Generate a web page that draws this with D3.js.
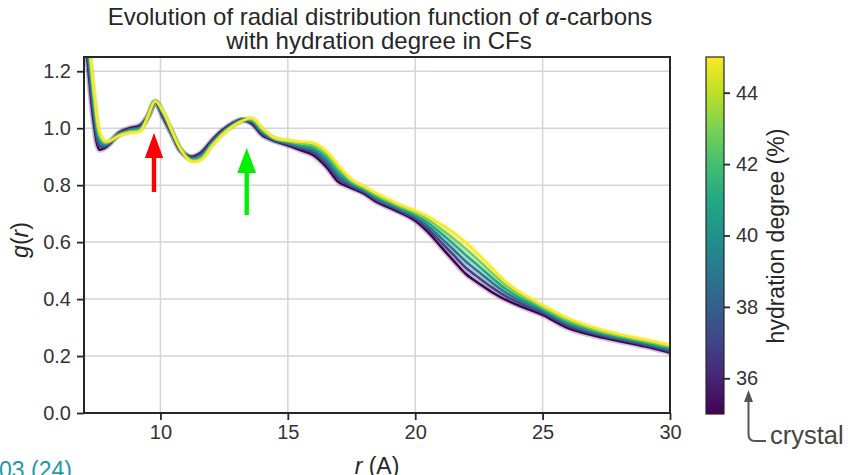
<!DOCTYPE html>
<html>
<head>
<meta charset="utf-8">
<script src="https://cdn.jsdelivr.net/npm/d3@7"></script>
<style>
  body { margin: 0; background: #fff; }
  svg { display: block; font-family: "Liberation Sans", Arial, sans-serif; }
</style>
</head>
<body>
<script>
// radial distances (A)
var rValues = [7.0, 7.2, 7.4, 7.6, 7.8, 8.0, 8.4, 8.8, 9.2, 9.5, 9.8, 10.1, 10.5, 10.8, 11.2, 11.6, 12.0, 12.4, 12.8, 13.2, 13.6, 14.0, 14.5, 15.0, 15.5, 16.0, 16.5, 17.0, 17.5, 18.0, 18.5, 19.0, 19.5, 20.0, 20.5, 21.0, 21.5, 22.0, 22.5, 23.0, 23.5, 24.0, 24.5, 25.0, 26.0, 27.0, 28.0, 29.0, 30.0];

// hydration degree of each curve (%)
var hydration = [35, 37, 39, 41, 43, 45];

// g(r) for each hydration degree
var g35 = [1.38, 1.18, 1.01, 0.925, 0.93, 0.945, 0.985, 1.0, 1.01, 1.04, 1.09, 1.04, 0.97, 0.92, 0.90, 0.915, 0.955, 0.99, 1.015, 1.03, 1.015, 0.975, 0.955, 0.94, 0.923, 0.905, 0.865, 0.81, 0.79, 0.77, 0.74, 0.72, 0.70, 0.675, 0.635, 0.585, 0.535, 0.487, 0.455, 0.425, 0.40, 0.38, 0.362, 0.345, 0.298, 0.272, 0.253, 0.234, 0.212];
var g37 = [1.40, 1.20, 1.03, 0.938, 0.935, 0.947, 0.983, 0.997, 1.006, 1.04, 1.091, 1.044, 0.972, 0.921, 0.897, 0.91, 0.951, 0.987, 1.013, 1.029, 1.019, 0.98, 0.957, 0.944, 0.929, 0.914, 0.876, 0.822, 0.796, 0.775, 0.746, 0.726, 0.705, 0.682, 0.646, 0.601, 0.555, 0.509, 0.475, 0.442, 0.413, 0.39, 0.37, 0.352, 0.305, 0.278, 0.258, 0.239, 0.217];
var g39 = [1.43, 1.23, 1.05, 0.951, 0.94, 0.949, 0.981, 0.994, 1.002, 1.04, 1.092, 1.048, 0.974, 0.922, 0.894, 0.905, 0.947, 0.984, 1.011, 1.028, 1.023, 0.985, 0.959, 0.947, 0.935, 0.922, 0.887, 0.833, 0.802, 0.78, 0.752, 0.731, 0.711, 0.689, 0.657, 0.616, 0.574, 0.531, 0.495, 0.459, 0.426, 0.40, 0.379, 0.358, 0.312, 0.283, 0.262, 0.244, 0.222];
var g41 = [1.45, 1.25, 1.08, 0.964, 0.945, 0.951, 0.979, 0.991, 0.998, 1.04, 1.093, 1.052, 0.976, 0.923, 0.891, 0.90, 0.943, 0.981, 1.009, 1.027, 1.027, 0.99, 0.961, 0.951, 0.94, 0.931, 0.898, 0.845, 0.808, 0.785, 0.758, 0.737, 0.716, 0.696, 0.668, 0.632, 0.594, 0.553, 0.515, 0.476, 0.439, 0.41, 0.387, 0.365, 0.318, 0.289, 0.267, 0.248, 0.228];
var g43 = [1.48, 1.28, 1.10, 0.977, 0.95, 0.953, 0.977, 0.988, 0.994, 1.04, 1.094, 1.056, 0.978, 0.924, 0.888, 0.895, 0.939, 0.978, 1.007, 1.026, 1.031, 0.995, 0.963, 0.954, 0.946, 0.939, 0.909, 0.856, 0.814, 0.79, 0.764, 0.742, 0.722, 0.703, 0.679, 0.647, 0.613, 0.575, 0.535, 0.493, 0.452, 0.42, 0.396, 0.371, 0.325, 0.294, 0.271, 0.253, 0.233];
var g45 = [1.50, 1.30, 1.12, 0.99, 0.955, 0.955, 0.975, 0.985, 0.99, 1.04, 1.095, 1.06, 0.98, 0.925, 0.885, 0.89, 0.935, 0.975, 1.005, 1.025, 1.035, 1.0, 0.965, 0.958, 0.952, 0.948, 0.92, 0.868, 0.82, 0.795, 0.77, 0.748, 0.727, 0.71, 0.69, 0.663, 0.633, 0.597, 0.555, 0.51, 0.465, 0.43, 0.404, 0.378, 0.332, 0.30, 0.276, 0.258, 0.238];

// tick labels
var xTicks = [10, 15, 20, 25, 30];
var yTicks = [0.0, 0.2, 0.4, 0.6, 0.8, 1.0, 1.2];
var cbTicks = [36, 38, 40, 42, 44];

var curves = [g35, g37, g39, g41, g43, g45];

var width = 848, height = 475;
var margin = {left: 84, right: 178, top: 57, bottom: 62};
var plotW = width - margin.left - margin.right;
var plotH = height - margin.top - margin.bottom;
var dark = "#262626";

var svg = d3.select("body").append("svg")
  .attr("width", width)
  .attr("height", height);

var x = d3.scaleLinear().domain([7, 30]).range([margin.left, margin.left + plotW]);
var y = d3.scaleLinear().domain([0, 1.25]).range([margin.top + plotH, margin.top]);
var color = d3.scaleSequential(d3.interpolateViridis).domain([35, 45]);

// grid
svg.append("g").selectAll("line").data(xTicks).enter().append("line")
  .attr("x1", d => x(d)).attr("x2", d => x(d))
  .attr("y1", y(0)).attr("y2", y(1.25))
  .attr("stroke", "#d5d5d5").attr("stroke-width", 1.5);
svg.append("g").selectAll("line").data(yTicks).enter().append("line")
  .attr("x1", x(7)).attr("x2", x(30))
  .attr("y1", d => y(d)).attr("y2", d => y(d))
  .attr("stroke", "#d5d5d5").attr("stroke-width", 1.5);

// curves
svg.append("clipPath").attr("id", "clip").append("rect")
  .attr("x", margin.left).attr("y", margin.top)
  .attr("width", plotW).attr("height", plotH);

var line = d3.line()
  .x(function(d, i) { return x(rValues[i]); })
  .y(function(d) { return y(d); })
  .curve(d3.curveCatmullRom);

var plot = svg.append("g").attr("clip-path", "url(#clip)");

// faint band around each curve
plot.selectAll(".band").data(curves).enter().append("path")
  .attr("class", "band")
  .attr("d", line)
  .attr("fill", "none")
  .attr("stroke", (d, i) => color(hydration[i]))
  .attr("stroke-opacity", 0.22)
  .attr("stroke-width", 6)
  .attr("stroke-linejoin", "round");

plot.selectAll(".curve").data(curves).enter().append("path")
  .attr("class", "curve")
  .attr("d", line)
  .attr("fill", "none")
  .attr("stroke", (d, i) => color(hydration[i]))
  .attr("stroke-width", 2.5)
  .attr("stroke-linejoin", "round");

// axes
var xAxis = svg.append("g")
  .attr("transform", "translate(0," + y(0) + ")")
  .call(d3.axisBottom(x).tickValues(xTicks).tickSize(7).tickPadding(5).tickFormat(d3.format("d")));
var yAxis = svg.append("g")
  .attr("transform", "translate(" + x(7) + ",0)")
  .call(d3.axisLeft(y).tickValues(yTicks).tickSize(7).tickPadding(6).tickFormat(d3.format(".1f")));

[xAxis, yAxis].forEach(function(a) {
  a.select(".domain").remove();
  a.selectAll("line").attr("stroke", dark).attr("stroke-width", 1.8);
  a.selectAll("text").attr("fill", "#333").style("font-size", "20px")
    .style("font-family", "'Liberation Sans', Arial, sans-serif");
});

// frame
svg.append("rect")
  .attr("x", x(7)).attr("y", y(1.25))
  .attr("width", plotW).attr("height", plotH)
  .attr("fill", "none").attr("stroke", dark).attr("stroke-width", 2);

// title
var title = svg.append("text")
  .attr("text-anchor", "middle")
  .attr("fill", dark)
  .style("font-size", "24px");
title.append("tspan").attr("x", 380).attr("y", 25)
  .text("Evolution of radial distribution function of ")
  .append("tspan").style("font-style", "italic").text("α");
title.select("tspan").append("tspan").text("-carbons");
title.append("tspan").attr("x", 379).attr("y", 49).text("with hydration degree in CFs");

// axis labels
var ylab = svg.append("text")
  .attr("transform", "translate(28,240) rotate(-90)")
  .attr("text-anchor", "middle")
  .attr("fill", dark)
  .style("font-size", "23px");
ylab.append("tspan").style("font-style", "italic").text("g");
ylab.append("tspan").text("(");
ylab.append("tspan").style("font-style", "italic").text("r");
ylab.append("tspan").text(")");

var xlab = svg.append("text")
  .attr("x", 377).attr("y", 474)
  .attr("text-anchor", "middle")
  .attr("fill", dark)
  .style("font-size", "23px");
xlab.append("tspan").style("font-style", "italic").text("r");
xlab.append("tspan").text(" (A)");

// arrows marking the two peaks
function arrow(cx, tipY, baseY, tailY, halfW, fill) {
  svg.append("rect")
    .attr("x", cx - 2.2).attr("y", baseY - 1)
    .attr("width", 4.4).attr("height", tailY - baseY + 1)
    .attr("fill", fill);
  svg.append("path")
    .attr("d", "M" + cx + "," + tipY + "L" + (cx + halfW) + "," + baseY + "L" + (cx - halfW) + "," + baseY + "Z")
    .attr("fill", fill);
}
arrow(154, 133, 158, 192, 9.2, "#ff0000");
arrow(246.7, 148, 173, 215, 9.4, "#00f000");

// colorbar
var cbX = 706, cbW = 18;
var cb = d3.scaleLinear().domain([35, 45]).range([414, 57]);
var grad = svg.append("defs").append("linearGradient")
  .attr("id", "viridis").attr("x1", 0).attr("y1", 1).attr("x2", 0).attr("y2", 0);
d3.range(0, 1.01, 0.1).forEach(function(t) {
  grad.append("stop").attr("offset", t).attr("stop-color", d3.interpolateViridis(t));
});
svg.append("rect")
  .attr("x", cbX).attr("y", cb(45))
  .attr("width", cbW).attr("height", cb(35) - cb(45))
  .attr("fill", "url(#viridis)")
  .attr("stroke", dark).attr("stroke-width", 1.2);

var cbAxis = svg.append("g")
  .attr("transform", "translate(" + (cbX + cbW) + ",0)")
  .call(d3.axisRight(cb).tickValues(cbTicks).tickSize(6).tickPadding(6));
cbAxis.select(".domain").remove();
cbAxis.selectAll("line").attr("stroke", dark).attr("stroke-width", 1.8);
cbAxis.selectAll("text").attr("fill", "#333").style("font-size", "20px")
  .style("font-family", "'Liberation Sans', Arial, sans-serif");

svg.append("text")
  .attr("transform", "translate(784,236) rotate(-90)")
  .attr("text-anchor", "middle")
  .attr("fill", dark)
  .style("font-size", "23px")
  .text("hydration degree (%)");

// crystal annotation
svg.append("path")
  .attr("d", "M766,441 L755,441 Q748.5,441 748.5,434 L748.5,400")
  .attr("fill", "none").attr("stroke", "#555").attr("stroke-width", 2);
svg.append("path")
  .attr("d", "M748.5,390 L753,402 L744,402 Z")
  .attr("fill", "#555");
svg.append("text")
  .attr("x", 770).attr("y", 444)
  .attr("fill", "#444")
  .style("font-size", "25.5px")
  .text("crystal");

// cropped caption fragment at the bottom left
svg.append("text")
  .attr("x", -1).attr("y", 478)
  .attr("fill", "#1a9aa6")
  .style("font-size", "23px")
  .text("03 (24)");
</script>
</body>
</html>
